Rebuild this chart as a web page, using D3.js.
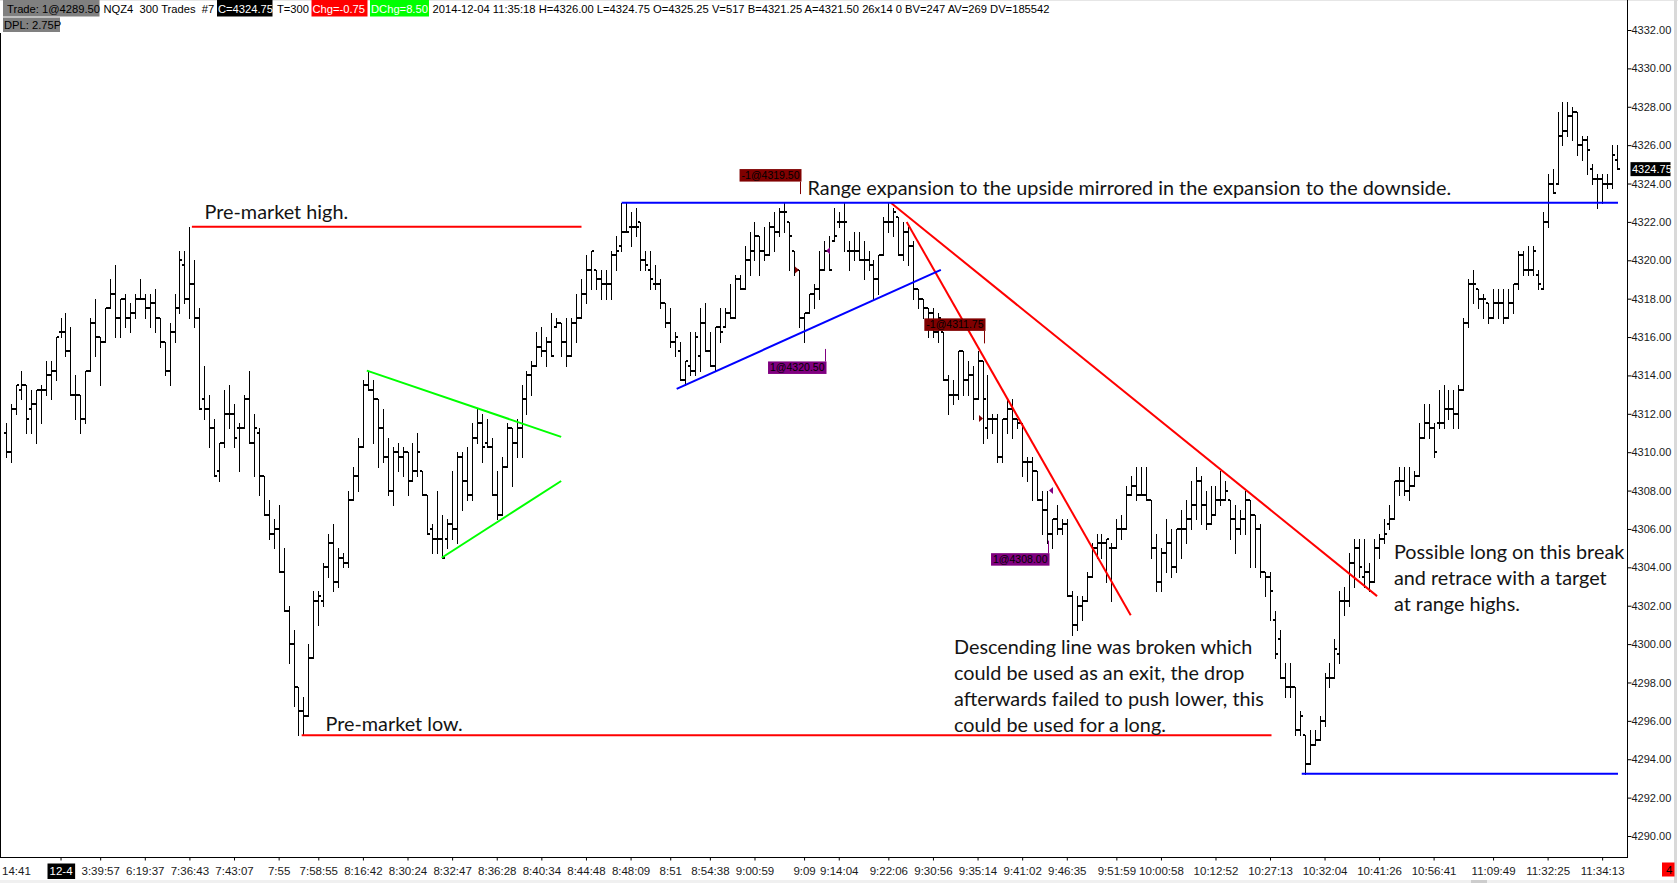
<!DOCTYPE html>
<html>
<head>
<meta charset="utf-8">
<script src="https://cdn.jsdelivr.net/npm/d3@7"></script>
<style>
  html, body { margin: 0; padding: 0; background: #fff; }
  svg { display: block; }
</style>
</head>
<body>
<svg id="chart"></svg>
<script>
// NQZ4, one bar per 300 trades, 2014-12-04. Values.
const opens = [
4311,4310,4312.25,4313.25,4313.5,4312.25,4312.5,4313.25,4313.25,4314,
4314.25,4316.25,4316.25,4315.25,4313,4313,4311.75,4314.25,4316.75,4316,
4315.75,4317.5,4318.25,4317,4318,4317,4317.25,4318,4318,4317.5,
4317.75,4317,4315.75,4314.25,4316.25,4317.5,4319.75,4318,4318.75,4317,
4312.75,4312.25,4311.25,4309,4310.5,4312,4312,4311.25,4311.25,4312.75,
4310.5,4311,4308.75,4306.75,4305.75,4306,4303.75,4301.75,4300,4297.75,
4296.5,4296.25,4299.25,4302.25,4302.25,4304,4305.25,4303.25,4304.5,4304.25,
4307.5,4308.75,4310.25,4313.5,4313.25,4312.75,4311.25,4309.75,4308,4310,
4309.75,4310,4308.5,4309,4309,4307.75,4306,4305.5,4305.5,4305.5,
4306.25,4306,4309.75,4308.5,4307.75,4310.75,4311.5,4310.5,4310.25,4307.75,
4306.75,4309.25,4311.25,4310.5,4311.25,4312.75,4314,4314.5,4315.5,4315.25,
4315.75,4316.5,4316.75,4315.75,4315,4316.75,4317,4318.25,4319.5,4319.5,
4319,4318.75,4318.75,4320.25,4320.75,4321.5,4321.75,4321.75,4322,4320,
4319.5,4318.75,4318.75,4317.75,4316.75,4315.75,4315.25,4313.75,4314.5,4314.25,
4315,4316.75,4315.25,4314.5,4316.5,4316.5,4317.25,4317,4319,4318.5,
4320,4320.5,4321.25,4320.5,4320.25,4321.75,4321.5,4322.5,4322,4320.5,
4319.5,4317,4317.25,4318.25,4318.5,4319.5,4320.5,4321,4322,4322,
4320.5,4320.5,4320.5,4320,4320,4319.75,4319,4320.25,4322,4322,
4322.25,4320.25,4321.5,4320.75,4318.5,4318,4317.5,4317.25,4316.25,4316.25,
4313.75,4313,4313,4315.25,4313.75,4314,4312.75,4314.75,4311.25,4311.75,
4311.75,4309.75,4311.75,4312.25,4311.75,4311.5,4309.5,4309.5,4309,4307.5,
4307,4305.75,4306.5,4306,4306.25,4302.5,4301,4302,4302.25,4303.5,
4305,4305.25,4305.25,4305,4305,4306,4306,4307.75,4308.25,4307.75,
4307.75,4307.5,4305,4303.25,4304.75,4305.25,4304,4306,4306,4306.5,
4307.25,4308.5,4307.25,4306.25,4306.75,4307.5,4307.5,4307.5,4306.5,4306,
4306.5,4307.5,4306.75,4306,4303.75,4303.5,4301.25,4300.25,4298.25,4297.75,
4297.75,4295.5,4295.25,4293.75,4294.75,4295,4296,4298.25,4298.25,4299.5,
4302.25,4302.25,4304.25,4305,4303.5,4303.75,4303.25,4305,4305.5,4306.25,
4306.5,4308.5,4308.5,4308,4308.25,4308.75,4310.75,4311.5,4311.25,4311.5,
4311.5,4312.25,4312.25,4312,4313.25,4316.75,4318.75,4318.5,4318,4317.75,
4317,4317.75,4317.75,4317,4317.75,4318.75,4320.25,4319.5,4319.5,4319.25,
4318.5,4322,4324,4324,4326.5,4326.75,4327.5,4327.75,4326,4326.25,
4324.75,4324.25,4324.25,4324,4324,4325.25
];
const highs = [
4311.5,4312.5,4313.5,4314.25,4313.5,4313.25,4313.25,4313.5,4314.75,4314.75,
4316,4317,4317.25,4316.5,4314,4313,4314.25,4317,4318,4316,
4317.5,4319,4319.75,4318,4318.25,4317.75,4318.25,4319,4318.25,4318.25,
4318.5,4317,4315.75,4316.75,4318.25,4320.5,4320.5,4321.75,4320,4317.5,
4314.5,4313,4311.75,4310.5,4313.25,4313.5,4312.5,4311.5,4313,4314.25,
4312,4311.25,4308.75,4307.5,4306.5,4307.25,4305,4302,4300.75,4297.75,
4297.25,4300,4302.75,4302.75,4304.25,4305.75,4306.25,4305,4304.75,4308,
4309.25,4310.75,4313.75,4314.25,4313.75,4312.75,4312.25,4310.75,4310.25,4310.5,
4310.25,4310,4310.5,4311,4309,4307.75,4306.25,4308,4306.75,4306.5,
4309,4310,4310,4310.25,4311.5,4312.25,4312,4311.75,4310.75,4309,
4309.75,4311.5,4311.25,4311.75,4313.5,4314.25,4314.75,4316.25,4316.5,4316,
4317.25,4317,4316.75,4317,4317,4318.25,4319,4320.25,4320.5,4319.5,
4319.5,4319.5,4320.5,4321.25,4323,4323,4322.5,4322.75,4322,4320.5,
4320.5,4319.75,4319,4317.75,4317.5,4316.25,4315.75,4314.75,4316.25,4316.25,
4317.5,4317.75,4316.25,4316.5,4317.5,4317.5,4318.75,4319.25,4319.25,4320.75,
4321.5,4322,4321.25,4321.75,4322,4322.5,4322.75,4323,4322,4320.5,
4319.5,4317.25,4318.25,4318.75,4320.5,4321,4321.25,4322.75,4322.5,4323,
4321,4321.5,4321.5,4321,4320.5,4320,4320.25,4322.25,4323,4322.75,
4322.25,4322,4321.75,4321,4318.5,4318,4317.5,4317.5,4317.25,4316.25,
4314,4313.75,4315.25,4315.25,4314.75,4314.5,4315.25,4314.75,4314,4312,
4312,4311.75,4312.75,4312.75,4311.75,4311.5,4309.75,4309.75,4309,4308,
4308,4306.5,4307.25,4306.5,4306.5,4302.75,4302.5,4302.5,4303.75,4305.25,
4305.75,4305.75,4305.5,4305.25,4306.5,4306.75,4308.25,4308.75,4309.25,4309.25,
4309.25,4307.5,4305.75,4305,4306.5,4306,4306,4307,4307.5,4308.5,
4309.25,4308.75,4308,4308.25,4308.25,4309,4308.5,4307.5,4307.25,4307,
4308,4307.5,4306.75,4306.25,4303.75,4303.75,4301.75,4300.75,4299,4299,
4297.75,4296.5,4295.25,4295.5,4295.5,4296.25,4298.5,4299,4300.25,4302.75,
4303,4304.75,4305.5,4305.5,4305.5,4304.25,4305.5,4305.75,4306.5,4307.25,
4308.5,4309.25,4309.25,4309.25,4309,4311.5,4312.5,4312.5,4311.5,4313.25,
4313.5,4313.25,4313.25,4313.5,4317,4319,4319.5,4318.5,4318.25,4317.75,
4318.5,4318.5,4318.5,4318.5,4318.75,4320.5,4320.5,4320.75,4320.75,4319.5,
4322.5,4324.5,4324.75,4327.75,4328.25,4328.25,4328,4327.75,4326.5,4326.5,
4325,4324.5,4324.5,4324.5,4326,4326
];
const lows = [
4309.75,4309.5,4312,4312.75,4311,4311,4310.5,4311.5,4313,4312.75,
4313.75,4316,4315,4313,4311.75,4311,4311.5,4314.25,4315,4313.5,
4315.75,4317.5,4316,4316,4316.5,4316.25,4317,4318,4317,4316.5,
4316.25,4315.5,4314,4313.5,4315.75,4317.25,4317.75,4317,4316.5,4312.25,
4311.75,4310.25,4308.75,4308.5,4310.25,4311.25,4310.25,4309,4311.25,4310.5,
4308.75,4307.75,4306.75,4305.5,4305,4303.75,4301.75,4299,4296.75,4295.25,
4295.25,4296.25,4299.25,4301,4302,4303.5,4302.75,4303,4304,4304,
4307.5,4308,4310.25,4313.25,4310.5,4309.25,4309.5,4307.75,4307.25,4309,
4308.75,4307.75,4308.5,4308.75,4307.75,4305.75,4304.75,4304.75,4304.5,4305,
4305.5,4305.25,4307,4307.5,4307.5,4310.5,4309.5,4310.25,4307.75,4306.5,
4306.75,4309.25,4308.25,4309.75,4309.75,4312,4313,4314.5,4315,4314.5,
4315,4316.5,4315,4314.5,4315,4315.75,4317,4317.75,4318.5,4318.5,
4318,4318,4318,4319.5,4320.5,4321.5,4320.75,4321.25,4319.5,4319.5,
4318.5,4318.5,4317.5,4316.5,4315.5,4315,4313.75,4313.5,4314,4314,
4314.25,4315.25,4314.5,4314.25,4315.75,4316.5,4317,4317,4318.5,4318.5,
4319.25,4320,4319.25,4320,4320.25,4320.5,4321.25,4321.5,4319.5,4319.25,
4316.5,4315.75,4317.25,4317.5,4318,4319.5,4319.5,4321,4321.75,4320.5,
4319.5,4320,4320,4319,4319.5,4318,4318.25,4320.25,4321.5,4321.25,
4320.25,4320,4319.75,4318,4317.5,4317,4316,4316,4315.75,4313.75,
4312,4312.5,4312.75,4313,4313,4311.75,4312.75,4310.5,4310.75,4311,
4309.5,4309.5,4311,4310.75,4311.25,4308.75,4308.5,4307.5,4307.5,4305.75,
4305.25,4305,4305.75,4305.75,4302.5,4300.5,4300.75,4301.25,4302.25,4303.5,
4304.5,4304.5,4303.25,4302.25,4305,4305.5,4306,4307.75,4307.5,4307.75,
4307.5,4304.5,4302.75,4302.75,4303.75,4303.5,4303.75,4304.5,4305.25,4306,
4306.5,4306.25,4306,4306.25,4306.75,4307.25,4307.5,4305.5,4304.75,4305.75,
4305.75,4304,4304,4303.5,4302.5,4301.25,4299.25,4298.25,4297.25,4297.25,
4295.25,4295.25,4293.25,4293.75,4294.75,4295,4295.75,4297.75,4298.25,4299,
4301.5,4302,4303,4303.5,4303,4302.75,4303.25,4304.5,4305.25,4306,
4306.5,4307.75,4307.75,4307.5,4308.25,4308.75,4310.75,4310.75,4309.75,4311.25,
4311.25,4311.75,4311.25,4311.25,4313.25,4316.5,4317.75,4317.5,4317,4316.75,
4317,4317,4316.75,4317,4317.25,4318.5,4319.25,4319.25,4319.25,4318.5,
4318.5,4321.75,4323.5,4324,4326,4326.5,4326.25,4325.5,4325.25,4324.5,
4324,4322.75,4323,4323.75,4323.75,4324.75
];
const closes = [
4310,4312.25,4313.5,4313.5,4311.75,4312.5,4313.25,4313.25,4314,4314.25,
4316,4316.25,4315.25,4313,4313,4311.75,4314.25,4316.75,4316,4315.75,
4317.5,4318.25,4317,4318,4317,4317.25,4318,4318,4317.5,4317.75,
4317,4315.75,4314.25,4316.25,4317.5,4320,4318,4318.75,4317,4312.25,
4312.25,4311.25,4308.75,4310.5,4312,4312,4310.75,4311.25,4312.75,4310.5,
4311.25,4308.75,4306.75,4305.75,4306,4303.75,4301.75,4300,4297.75,4296.5,
4296.25,4299.25,4302.25,4302.5,4304,4305.25,4303.25,4304.5,4304.25,4307.5,
4308.75,4310.25,4313.5,4313.25,4312.75,4311.25,4309.75,4308,4310,4309.75,
4310,4308.5,4309,4310,4307.75,4305.75,4305.5,4305.5,4304.5,4306.25,
4306,4309.75,4308.5,4307.75,4310.75,4311.5,4310.25,4310.25,4307.75,4306.75,
4309.25,4311.25,4310.5,4311.25,4312.75,4314,4314.5,4315.5,4315.25,4315.75,
4315,4316.75,4315.75,4315,4316.75,4317,4318.25,4319.5,4320.5,4319,
4318.75,4318.75,4320.25,4320.5,4321.5,4321.5,4321.75,4321.75,4320,4319.75,
4319,4318.75,4317.75,4316.75,4315.75,4316,4313.75,4314.75,4314.25,4316,
4316.75,4315.25,4314.5,4316.5,4316.25,4317.25,4317,4319,4318.5,4320,
4320.5,4321.25,4320.5,4320.25,4321.75,4321.5,4322.5,4322.5,4321.25,4319.5,
4317,4317.25,4318.25,4318.5,4319.5,4320.5,4319.5,4321.25,4322,4322,
4320.5,4320.5,4320,4320,4319.75,4319,4320.25,4322,4322,4322.5,
4320.25,4321.5,4320.75,4318.5,4318,4317.5,4317.25,4316.25,4317,4313.75,
4313,4313,4315.25,4313.75,4314,4312.75,4314.75,4312.75,4311.75,4311.75,
4309.75,4311.75,4312.25,4311.75,4311.5,4309.5,4309.5,4309,4307.5,4307,
4305.75,4306.5,4306,4306.25,4302.5,4301,4302,4302.25,4303.5,4305,
4305.25,4305.25,4305.5,4305,4306,4306,4307.75,4308.25,4307.75,4307.75,
4307.5,4305,4303.25,4304.75,4305.25,4304,4306,4306,4306.5,4307.25,
4308.5,4307.25,4306.25,4306.75,4307.5,4307.5,4308,4306.5,4306,4306.5,
4307.5,4306.75,4306,4303.75,4303.5,4302.75,4299.5,4298.25,4297.75,4297.75,
4295.5,4296.25,4293.75,4294.75,4295,4296,4298.25,4298.25,4299.75,4302.25,
4302.25,4304.25,4305,4304,4303.75,4303.25,4305,4305.5,4305.75,4306.5,
4308.5,4308.5,4308,4308.25,4308.75,4310.75,4311.5,4311.25,4310,4311.5,
4312.25,4312.25,4312,4313.25,4316.75,4318.75,4318.75,4318,4318,4317,
4317.75,4317.75,4317,4317.75,4318.75,4320.25,4319.5,4319.5,4320.5,4318.75,
4322,4324,4323.5,4326.5,4326.75,4327.5,4327.75,4326,4326.25,4325.75,
4324.25,4324.25,4324,4324,4325.5,4324.75
];

const priceTicks = d3.range(4290, 4333, 2);
const timeLabels = ["14:41","12-4","3:39:57","6:19:37","7:36:43","7:43:07","7:55","7:58:55",
  "8:16:42","8:30:24","8:32:47","8:36:28","8:40:34","8:44:48","8:48:09","8:51","8:54:38",
  "9:00:59","9:09","9:14:04","9:22:06","9:30:56","9:35:14","9:41:02","9:46:35","9:51:59",
  "10:00:58","10:12:52","10:27:13","10:32:04","10:41:26","10:56:41","11:09:49","11:32:25","11:34:13"];
const timeLabelBars = [2,11,19,28,37,46,55,63,72,81,90,99,108,117,126,134,142,151,161,168,
  178,187,196,205,214,224,233,244,255,266,277,288,300,311,322];
const lastPrice = 4324.75;

// drawn lines as [barFrom, priceFrom, barTo, priceTo]
const redLines = [
  [37.5, 4321.75, 116.1, 4321.75],
  [59.65, 4295.25, 255.3, 4295.25],
  [181.7, 4322, 226.9, 4301.5],
  [178.5, 4323, 276.6, 4302.5]
];
const greenLines = [
  [72.8, 4314.25, 112, 4310.8],
  [87.9, 4304.5, 112, 4308.5]
];
const blueLines = [
  [124.2, 4323, 325.2, 4323],
  [135.3, 4313.3, 188.6, 4319.5],
  [261.4, 4293.25, 325.2, 4293.25]
];

// fills: bar, price, label, side, and the price where the tag stem ends
const orders = [
  {bar: 160, price: 4319.5, label: "-1@4319.50", side: "sell", tag: 4323.45},
  {bar: 165, price: 4320.5, label: "1@4320.50", side: "buy", tag: 4315.38},
  {bar: 197, price: 4311.75, label: "-1@4311.75", side: "sell", tag: 4315.67},
  {bar: 210, price: 4308, label: "1@4308.00", side: "buy", tag: 4305.39}
];

const notes = [
  {bar: 40.05, price: 4322.15, lines: ["Pre-market high."]},
  {bar: 64.45, price: 4295.45, lines: ["Pre-market low."]},
  {bar: 161.7, price: 4323.4, lines: ["Range expansion to the upside mirrored in the expansion to the downside."]},
  {bar: 191.25, price: 4299.5, lines: ["Descending line was broken which", "could be used as an exit, the drop",
    "afterwards failed to push lower, this", "could be used for a long."]},
  {bar: 280, price: 4304.45, lines: ["Possible long on this break", "and retrace with a target", "at range highs."]}
];

// ---------------------------------------------------------------
const W = 1678, H = 883;
const axisX = 1627.5, axisY = 857.5;
const uiFont = "'Liberation Sans', Arial, sans-serif";
const noteFont = "Lato, 'Open Sans', sans-serif";

const svg = d3.select("#chart").attr("width", W).attr("height", H);

const x = d3.scaleLinear().domain([0, opens.length - 1]).range([6, 1617]);
const y = d3.scaleLinear().domain([4290, 4332]).range([836, 30]);
const px = i => Math.round(x(i)) + 0.5;

// frame bits
svg.append("line").attr("x1", 0).attr("x2", W).attr("y1", 0.5).attr("y2", 0.5).attr("stroke", "#e6e6e6");
svg.append("line").attr("x1", 0.5).attr("x2", 0.5).attr("y1", 33).attr("y2", axisY).attr("stroke", "#000");
svg.append("rect").attr("x", 1674).attr("y", 0).attr("width", 3).attr("height", H).attr("fill", "#d9d9d9");
svg.append("rect").attr("x", 0).attr("y", 880).attr("width", 1674).attr("height", 3).attr("fill", "#f0f0f0");
svg.append("rect").attr("x", 1471).attr("y", 880).attr("width", 16).attr("height", 3).attr("fill", "#cdcdcd");

// bars
const data = opens.map((o, i) => ({i: i, o: o, h: highs[i], l: lows[i], c: closes[i]}));
const gBars = svg.append("g").attr("shape-rendering", "crispEdges");
gBars.append("g").selectAll("rect").data(data).join("rect")
  .attr("x", d => px(d.i) - 0.5)
  .attr("y", d => Math.round(y(d.h)))
  .attr("width", 1)
  .attr("height", d => Math.max(1, Math.round(y(d.l)) - Math.round(y(d.h)) + 1))
  .attr("fill", "#000");
gBars.append("g").selectAll("rect").data(data).join("rect")
  .attr("x", d => px(d.i) - 2.5)
  .attr("y", d => Math.round(y(d.o)) - 1)
  .attr("width", 2).attr("height", 2).attr("fill", "#000");
gBars.append("g").selectAll("rect").data(data).join("rect")
  .attr("x", d => px(d.i) + 0.5)
  .attr("y", d => Math.round(y(d.c)) - 1)
  .attr("width", 2).attr("height", 2).attr("fill", "#000");

// drawn lines
function drawLines(list, color) {
  svg.append("g").selectAll("line").data(list).join("line")
    .attr("x1", d => x(d[0])).attr("y1", d => y(d[1]))
    .attr("x2", d => x(d[2])).attr("y2", d => y(d[3]))
    .attr("stroke", color).attr("stroke-width", 2);
}
drawLines(redLines, "#ff0000");
drawLines(greenLines, "#00ff00");
drawLines(blueLines, "#0000ff");

// order fills and tags
const gOrd = svg.append("g");
orders.forEach(o => {
  const bx = px(o.bar), by = y(o.price);
  const sell = o.side === "sell";
  const col = sell ? "#800000" : "#800080";
  const tri = sell
    ? [[bx - 0.5, by], [bx - 4.5, by - 3.5], [bx - 4.5, by + 3.5]]
    : [[bx + 1.5, by], [bx + 5.5, by - 3.5], [bx + 5.5, by + 3.5]];
  gOrd.append("polygon").attr("points", tri.map(p => p.join(",")).join(" ")).attr("fill", col);

  const sx = bx + 1, sy = y(o.tag);
  const stemEnd = sell ? sy - 12.5 : sy + 12.5;
  gOrd.append("line").attr("x1", sx).attr("x2", sx).attr("y1", sy).attr("y2", stemEnd)
    .attr("stroke", col).attr("stroke-width", 1);
  const t = gOrd.append("text").attr("font-family", uiFont).attr("font-size", 10.5)
    .attr("fill", "#000").text(o.label);
  const tw = t.node().getComputedTextLength();
  const bw = tw + 4, bh = 12.5;
  const boxTop = sell ? stemEnd - bh : stemEnd;
  gOrd.insert("rect", "text:last-child").attr("x", sx + 1 - bw).attr("y", boxTop)
    .attr("width", bw).attr("height", bh).attr("fill", col);
  t.attr("x", sx + 1 - bw + 2).attr("y", boxTop + 10);
});

// notes, sized so the long line spans its width in the picture
const probe = svg.append("text").attr("font-family", noteFont).attr("font-size", 100).text(notes[2].lines[0]);
const w100 = probe.node().getComputedTextLength();
probe.remove();
const noteSize = Math.max(15, Math.min(23, 644 / w100 * 100));
notes.forEach(n => {
  const t = svg.append("text").attr("font-family", noteFont).attr("font-size", noteSize)
    .attr("fill", "#141414").attr("x", x(n.bar)).attr("y", y(n.price));
  n.lines.forEach((ln, k) => {
    t.append("tspan").attr("x", x(n.bar)).attr("dy", k === 0 ? 0 : 26).text(ln);
  });
});

// price axis
svg.append("line").attr("x1", axisX).attr("x2", axisX).attr("y1", 0).attr("y2", axisY + 0.5)
  .attr("stroke", "#000");
const yAxis = svg.append("g").attr("transform", `translate(${axisX},0)`)
  .call(d3.axisRight(y).tickValues(priceTicks).tickFormat(d3.format(".2f"))
    .tickSize(4).tickSizeOuter(0).tickPadding(0));
yAxis.select(".domain").remove();
yAxis.selectAll("line").attr("stroke", "#000");
yAxis.selectAll("text").attr("font-family", uiFont).attr("font-size", 11).attr("fill", "#1a1a1a")
  .attr("x", 4);
svg.append("rect").attr("x", 1630.5).attr("y", y(lastPrice) - 7).attr("width", 40).attr("height", 14)
  .attr("fill", "#000");
svg.append("text").attr("x", 1632).attr("y", y(lastPrice) + 4).attr("font-family", uiFont)
  .attr("font-size", 11).attr("fill", "#fff").text(d3.format(".2f")(lastPrice));

// time axis
svg.append("line").attr("x1", 0).attr("x2", axisX).attr("y1", axisY).attr("y2", axisY).attr("stroke", "#000");
const xAxis = svg.append("g").attr("transform", `translate(0,${axisY})`)
  .call(d3.axisBottom(x).tickValues(timeLabelBars).tickFormat((d, i) => timeLabels[i])
    .tickSize(3).tickSizeOuter(0).tickPadding(6));
xAxis.select(".domain").remove();
xAxis.selectAll("line").attr("stroke", "#000");
xAxis.selectAll(".tick").filter((d, i) => i === 0).select("line").remove();
xAxis.selectAll("text").attr("font-family", uiFont).attr("font-size", 11.5).attr("fill", "#1a1a1a");
xAxis.selectAll(".tick").filter((d, i) => timeLabels[i] === "12-4").each(function () {
  const tx = d3.select(this).select("text");
  const b = tx.node().getBBox();
  d3.select(this).insert("rect", "text").attr("x", b.x - 2).attr("y", 6)
    .attr("width", b.width + 4).attr("height", 15.5).attr("fill", "#000");
  tx.attr("fill", "#fff");
});

// status box bottom right
svg.append("rect").attr("x", 1662).attr("y", 862.5).attr("width", 12.5).attr("height", 14).attr("fill", "#ff0000");
svg.append("text").attr("x", 1672.5).attr("y", 874).attr("text-anchor", "end").attr("font-family", uiFont)
  .attr("font-size", 11.5).attr("fill", "#000").text("4");

// header line
const head = svg.append("g").attr("font-family", uiFont).attr("font-size", 11.2);
const headItems = [
  {x: 3, y: 0, w: 96.5, h: 16.5, bg: "#808080", fg: "#000", text: "Trade: 1@4289.50", tx: 7, ty: 12.5},
  {x: 3, y: 17.5, w: 57, h: 14.5, bg: "#808080", fg: "#000", text: "DPL: 2.75P", tx: 4, ty: 28.5},
  {text: "NQZ4\u00a0\u00a0300 Trades\u00a0\u00a0#7", tx: 103.5, ty: 12.5, fg: "#000"},
  {x: 217, y: 0, w: 55.5, h: 16.5, bg: "#000", fg: "#fff", text: "C=4324.75", tx: 218, ty: 12.5},
  {text: "T=300", tx: 277, ty: 12.5, fg: "#000"},
  {x: 311.5, y: 0, w: 56, h: 16.5, bg: "#ff0000", fg: "#fff", text: "Chg=-0.75", tx: 312.5, ty: 12.5},
  {x: 370, y: 0, w: 59, h: 16.5, bg: "#00ff00", fg: "#fff", text: "DChg=8.50", tx: 371, ty: 12.5},
  {text: "2014-12-04 11:35:18 H=4326.00 L=4324.75 O=4325.25 V=517 B=4321.25 A=4321.50 26x14 0 BV=247 AV=269 DV=185542",
    tx: 432.5, ty: 12.5, fg: "#000"}
];
headItems.forEach(h => {
  if (h.bg) head.append("rect").attr("x", h.x).attr("y", h.y).attr("width", h.w).attr("height", h.h).attr("fill", h.bg);
  head.append("text").attr("x", h.tx).attr("y", h.ty).attr("fill", h.fg).text(h.text);
});
</script>
</body>
</html>
